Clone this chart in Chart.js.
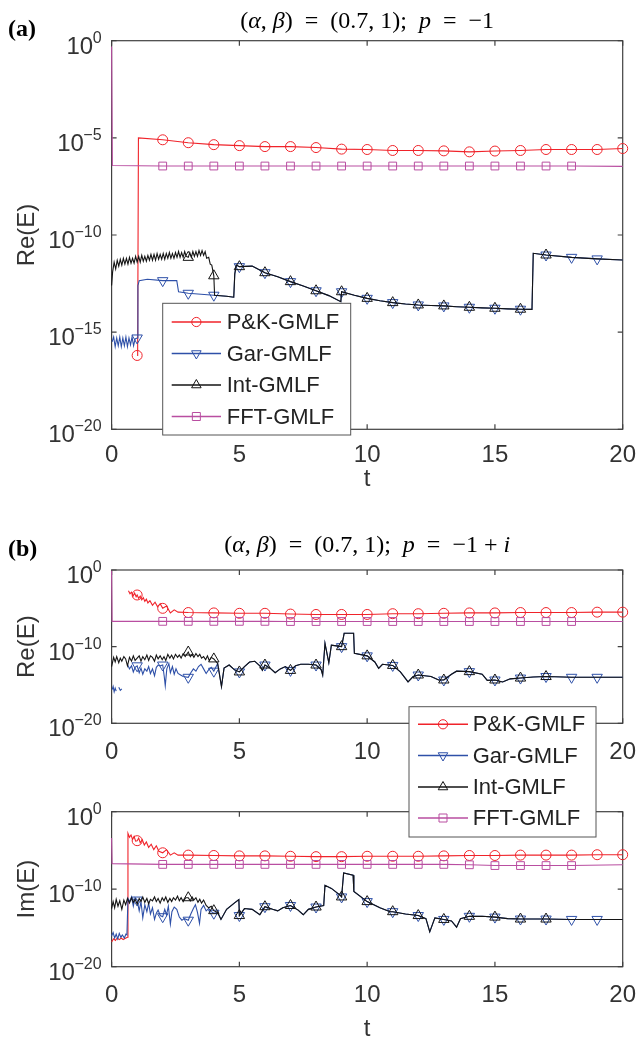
<!DOCTYPE html>
<html>
<head>
<meta charset="utf-8">
<script src="https://cdn.jsdelivr.net/npm/chart.js@4.4.1/dist/chart.umd.min.js"></script>
<style>
  body { margin: 0; background: #fff; width: 636px; height: 1040px; position: relative; overflow: hidden; }
  canvas { position: absolute; left: 0; }
</style>
</head>
<body>
<canvas id="panelA" width="636" height="520" style="top:0px"></canvas>
<canvas id="panelB1" width="636" height="270" style="top:520px"></canvas>
<canvas id="panelB2" width="636" height="340" style="top:700px"></canvas>
<script>
// ---- axes / legend text ----
const tickX = [0, 5, 10, 15, 20];
const tickExpA = [0, -5, -10, -15, -20];
const tickExpB = [0, -10, -20];
const seriesNames = ["P&K-GMLF", "Gar-GMLF", "Int-GMLF", "FFT-GMLF"];

// t values where each method shows a marker
const pkMarks = [1, 2, 3, 4, 5, 6, 7, 8, 9, 10, 11, 12, 13, 14, 15, 16, 17, 18, 19, 20];
const garMarks = [1, 2, 3, 4, 5, 6, 7, 8, 9, 10, 11, 12, 13, 14, 15, 16, 17, 18, 19];
const intMarks = [3, 4, 5, 6, 7, 8, 9, 10, 11, 12, 13, 14, 15, 16, 17];
const fftMarks = [2, 3, 4, 5, 6, 7, 8, 9, 10, 11, 12, 13, 14, 15, 16, 17, 18];

// ---- panel (a): values are log10 of the error ----
const pkA_t = [1, 1.02, 1.05, 2, 3, 4, 5, 6, 7, 8, 9, 10, 11, 12, 13, 14, 15, 16, 17, 18, 19, 20];
const pkA_e = [-16.2, -15.6, -5.0, -5.1, -5.25, -5.35, -5.4, -5.45, -5.45, -5.5, -5.58, -5.6, -5.65, -5.65, -5.67, -5.72, -5.68, -5.65, -5.6, -5.6, -5.6, -5.55];

const garA_t = [0.02, 0.08, 0.14, 0.2, 0.26, 0.32, 0.38, 0.44, 0.5, 0.56, 0.62, 0.68, 0.74, 0.8, 0.86, 0.92, 1, 1.03, 1.08, 1.4, 2, 2.55, 2.62, 3, 3.5, 4, 4.5, 4.78];
const garA_e = [-15.5, -15.25, -15.75, -15.3, -15.7, -15.25, -15.75, -15.3, -15.7, -15.25, -15.75, -15.3, -15.65, -15.25, -15.7, -15.35, -15.3, -12.6, -12.35, -12.28, -12.35, -12.35, -12.92, -13.0, -13.05, -13.1, -13.15, -13.2];

const intA_t = [0, 0.04, 0.1, 0.16, 0.22, 0.28, 0.34, 0.4, 0.46, 0.52, 0.58, 0.64, 0.7, 0.76, 0.82, 0.88, 0.94, 1, 1.06, 1.12, 1.18, 1.24, 1.3, 1.36, 1.42, 1.48, 1.54, 1.6, 1.66, 1.72, 1.78, 1.84, 1.9, 1.96, 2.02, 2.08, 2.14, 2.2, 2.26, 2.32, 2.38, 2.44, 2.5, 2.56, 2.62, 2.68, 2.74, 2.8, 2.86, 2.92, 3, 3.06, 3.12, 3.18, 3.24, 3.3, 3.36, 3.42, 3.48, 3.54, 3.6, 3.66, 3.72, 3.8, 3.86, 3.92, 4, 4.03, 4.5, 4.78];
const intA_e = [-12.6, -11.9, -11.4, -11.75, -11.3, -11.6, -11.25, -11.55, -11.2, -11.5, -11.2, -11.5, -11.15, -11.45, -11.2, -11.45, -11.1, -11.4, -11.1, -11.4, -11.05, -11.35, -11.1, -11.35, -11.05, -11.3, -11.0, -11.3, -11.0, -11.3, -10.95, -11.25, -11.0, -11.25, -10.95, -11.25, -10.95, -11.2, -10.9, -11.2, -10.95, -11.2, -10.9, -11.15, -10.85, -11.15, -10.9, -11.15, -10.85, -11.1, -11.15, -10.9, -11.15, -10.85, -11.1, -10.85, -11.1, -10.8, -11.05, -10.8, -11.05, -10.85, -11.2, -11.15, -11.5, -11.55, -12.1, -13.1, -13.15, -13.2];

// Gar and Int coincide after t ~ 4.8
const tailA_t = [4.82, 4.88, 5, 5.5, 6, 6.5, 7, 7.5, 8, 8.5, 8.97, 9, 9.5, 10, 10.5, 11, 11.5, 12, 12.5, 13, 13.5, 14, 14.5, 15, 15.5, 16, 16.45, 16.5, 17, 18, 19, 20];
const tailA_e = [-12.0, -11.55, -11.63, -11.6, -11.94, -12.15, -12.4, -12.62, -12.87, -13.12, -13.43, -12.92, -13.1, -13.26, -13.38, -13.48, -13.55, -13.6, -13.63, -13.65, -13.69, -13.72, -13.75, -13.77, -13.8, -13.82, -13.83, -10.94, -11.03, -11.15, -11.23, -11.29];

const fftA_t = [0, 0.03, 2, 3, 4, 5, 6, 7, 8, 9, 10, 11, 12, 13, 14, 15, 16, 17, 18, 20];
const fftA_e = [-0.3, -6.42, -6.45, -6.45, -6.45, -6.45, -6.45, -6.45, -6.45, -6.45, -6.45, -6.45, -6.45, -6.45, -6.45, -6.45, -6.45, -6.45, -6.45, -6.47];

// ---- panel (b), real part ----
const pkB1_t = [0.66, 0.72, 0.78, 0.84, 0.9, 0.96, 1, 1.06, 1.12, 1.18, 1.24, 1.3, 1.36, 1.42, 1.5, 1.6, 1.7, 1.8, 1.9, 2, 2.15, 2.3, 2.45, 2.6, 3, 4, 5, 6, 7, 8, 9, 10, 11, 12, 13, 14, 15, 16, 17, 18, 19, 20];
const pkB1_e = [-2.7, -3.1, -2.9, -3.4, -3.0, -3.5, -3.26, -3.7, -3.4, -3.9, -3.6, -4.1, -3.8, -4.3, -4.0, -4.6, -4.2, -4.8, -4.4, -5.0, -4.7, -5.6, -5.2, -5.5, -5.55, -5.6, -5.65, -5.65, -5.75, -5.8, -5.8, -5.8, -5.7, -5.7, -5.65, -5.6, -5.6, -5.55, -5.55, -5.55, -5.5, -5.5];

const garB1_t = [0.02, 0.06, 0.1, 0.14, 0.18, 0.22, 0.28, 0.34, 0.4, 0.45, 0.62, 0.7, 0.78, 0.85, 0.92, 1, 1.08, 1.15, 1.22, 1.3, 1.38, 1.45, 1.52, 1.6, 1.68, 1.75, 1.82, 1.9, 2, 2.06, 2.1, 2.16, 2.24, 2.3, 2.38, 2.45, 2.52, 2.6, 2.7, 2.8, 3, 3.1, 3.2, 3.3, 3.4, 3.5, 3.6, 3.7, 3.8, 3.9, 4];
const garB1_e = [-15.6, -15.2, -15.9, -15.4, -15.8, null, -15.3, -15.7, -15.5, null, -12.3, -12.9, -12.5, -13.3, -12.7, -12.5, -13.4, -12.8, -13.6, -12.9, -13.2, -12.6, -13.5, -12.9, -13.8, -12.7, -12.4, -12.5, -12.4, -13.9, -15.1, -12.9, -12.2, -13.4, -12.6, -13.6, -12.9, -13.5, -13.7, -13.9, -14.0, -13.4, -12.9, -13.2, -12.6, -12.3, -12.9, -13.5, -13.0, -12.7, -13.2];

const intB1_t = [0, 0.08, 0.14, 0.2, 0.28, 0.34, 0.4, 0.48, 0.55, 0.62, 0.7, 0.78, 0.85, 0.92, 1, 1.08, 1.15, 1.22, 1.3, 1.38, 1.45, 1.52, 1.6, 1.68, 1.75, 1.82, 1.9, 1.98, 2.05, 2.12, 2.2, 2.28, 2.35, 2.42, 2.5, 2.58, 2.65, 2.72, 2.8, 2.88, 3, 3.08, 3.15, 3.22, 3.3, 3.38, 3.45, 3.52, 3.6, 3.68, 3.75, 3.82, 3.9, 4];
const intB1_e = [-12.6, -11.4, -12.0, -11.3, -12.1, -11.5, -11.9, -11.3, -11.6, -12.5, -11.4, -11.9, -11.2, -11.8, -11.5, -11.2, -11.9, -11.3, -11.7, -11.1, -11.8, -11.2, -11.4, -11.9, -11.1, -11.6, -11.2, -11.7, -11.3, -11.8, -11.0, -11.5, -11.1, -11.6, -11.0, -11.4, -11.1, -11.5, -10.9, -11.3, -10.7, -11.3, -11.0, -11.4, -10.9, -11.3, -11.0, -11.5, -11.3, -11.7, -11.2, -11.8, -11.4, -11.6];

const tailB1_t = [4.15, 4.3, 4.4, 4.6, 4.8, 5, 5.2, 5.4, 5.6, 5.8, 5.9, 6, 6.2, 6.4, 6.6, 6.8, 7, 7.2, 7.4, 7.7, 8, 8.2, 8.26, 8.35, 8.5, 8.6, 8.8, 9, 9.1, 9.47, 9.5, 10, 10.3, 10.45, 10.6, 11, 11.3, 11.6, 11.8, 12, 12.5, 12.8, 13, 13.3, 13.5, 14, 14.5, 14.7, 15, 15.3, 15.6, 16, 16.5, 17, 18, 19, 20];
const tailB1_e = [-12.2, -15.2, -12.8, -12.4, -13.0, -13.3, -12.6, -12.0, -11.9, -12.5, -13.1, -12.4, -12.8, -13.4, -12.9, -12.6, -13.1, -12.5, -12.3, -12.3, -12.4, -13.0, -13.7, -9.57, -12.1, -9.8, -9.9, -10.0, -8.26, -8.26, -10.87, -11.2, -12.0, -12.83, -12.3, -12.45, -13.3, -14.6, -13.9, -13.7, -13.9, -14.35, -14.35, -13.6, -13.2, -13.26, -13.6, -14.4, -14.35, -14.6, -14.2, -14.1, -13.95, -13.9, -14.0, -14.0, -14.0];

const fftB1_t = [0, 0.02, 2, 3, 4, 5, 6, 7, 8, 9, 10, 11, 12, 13, 14, 15, 16, 17, 18, 20];
const fftB1_e = [-0.1, -6.7, -6.7, -6.7, -6.7, -6.7, -6.7, -6.72, -6.72, -6.72, -6.72, -6.72, -6.72, -6.72, -6.72, -6.72, -6.72, -6.72, -6.72, -6.72];

// ---- panel (b), imaginary part ----
const pkB2_t = [0, 0.08, 0.15, 0.22, 0.3, 0.38, 0.45, 0.56, 0.62, 0.64, 0.7, 0.76, 0.82, 0.88, 0.94, 1, 1.06, 1.12, 1.2, 1.28, 1.36, 1.45, 1.55, 1.65, 1.75, 1.85, 2, 2.15, 2.3, 2.45, 2.6, 3, 4, 5, 6, 7, 8, 9, 10, 11, 12, 13, 14, 15, 16, 17, 18, 19, 20];
const pkB2_e = [-16.8, -16.4, -16.6, -16.3, -16.5, -16.3, -16.5, -16.3, -16.2, -2.8, -3.3, -3.0, -3.6, -3.2, -3.8, -3.74, -3.4, -4.0, -3.6, -4.3, -3.9, -4.6, -4.2, -4.9, -4.4, -5.1, -5.3, -4.9, -5.6, -5.3, -5.6, -5.6, -5.65, -5.7, -5.7, -5.75, -5.8, -5.8, -5.75, -5.75, -5.75, -5.7, -5.65, -5.65, -5.6, -5.6, -5.6, -5.55, -5.55];

const garB2_t = [0, 0.06, 0.12, 0.18, 0.24, 0.3, 0.36, 0.42, 0.5, 0.56, 0.6, 0.64, 0.7, 0.78, 0.85, 0.92, 1, 1.08, 1.15, 1.22, 1.3, 1.38, 1.45, 1.52, 1.6, 1.68, 1.75, 1.82, 1.9, 2, 2.08, 2.15, 2.22, 2.3, 2.36, 2.45, 2.55, 2.65, 2.75, 2.85, 3, 3.1, 3.2, 3.28, 3.36, 3.44, 3.5, 3.6, 3.7, 3.8, 3.9, 4];
const garB2_e = [-16.0, -15.6, -16.3, -15.8, -16.4, -15.7, -16.2, -15.9, -16.3, -15.8, -15.9, -11.2, -11.6, -11.0, -12.2, -11.1, -11.4, -12.8, -11.6, -13.7, -12.0, -12.9, -11.8, -13.2, -12.4, -13.9, -13.1, -12.7, -13.4, -13.55, -12.6, -13.3, -12.2, -14.5, -12.9, -12.3, -12.6, -13.6, -14.0, -13.8, -14.0, -13.2, -12.5, -12.0, -13.0, -14.4, -12.6, -12.1, -12.8, -12.5, -12.9, -13.1];

const intB2_t = [0, 0.06, 0.12, 0.18, 0.25, 0.32, 0.4, 0.48, 0.55, 0.62, 0.7, 0.78, 0.85, 0.92, 1, 1.08, 1.15, 1.22, 1.3, 1.38, 1.45, 1.52, 1.6, 1.68, 1.75, 1.82, 1.9, 1.98, 2.05, 2.12, 2.2, 2.28, 2.35, 2.42, 2.5, 2.58, 2.65, 2.72, 2.8, 2.9, 3, 3.08, 3.15, 3.22, 3.3, 3.38, 3.45, 3.52, 3.6, 3.7, 3.8, 3.9, 4];
const intB2_e = [-12.5, -11.6, -12.4, -11.3, -12.2, -11.5, -12.6, -11.4, -12.0, -11.2, -11.8, -11.1, -11.7, -11.3, -11.9, -11.2, -11.6, -11.0, -11.7, -11.2, -11.9, -11.3, -11.5, -11.0, -11.6, -11.2, -11.8, -11.1, -11.5, -11.0, -11.7, -11.2, -11.6, -11.1, -11.4, -10.9, -11.5, -11.1, -11.6, -11.1, -11.1, -11.5, -11.0, -11.4, -11.1, -11.7, -11.3, -11.8, -11.4, -12.1, -12.4, -12.2, -12.77];

const tailB2_t = [4.15, 4.28, 4.5, 4.8, 4.98, 5, 5.2, 5.5, 5.8, 6, 6.3, 6.5, 6.7, 7, 7.3, 7.5, 7.7, 8, 8.3, 8.35, 8.6, 8.95, 9, 9.08, 9.45, 9.48, 10, 10.5, 10.9, 11, 11.5, 12, 12.3, 12.45, 12.65, 13, 13.3, 13.5, 13.65, 14, 14.5, 15, 15.5, 16, 17, 18, 19, 20];
const tailB2_e = [-13.0, -13.9, -12.6, -11.8, -11.35, -13.4, -12.5, -12.6, -13.3, -12.26, -12.6, -12.8, -12.4, -12.1, -12.7, -13.3, -12.6, -12.3, -12.1, -9.5, -9.9, -10.8, -11.0, -7.9, -8.2, -10.3, -11.6, -12.4, -12.9, -12.9, -13.2, -13.4, -13.8, -15.5, -13.7, -13.9, -14.1, -14.9, -13.8, -13.5, -13.5, -13.6, -13.8, -13.85, -13.85, -13.9, -13.9, -13.9];

const fftB2_t = [0, 0.02, 2, 3, 4, 5, 6, 7, 8, 9, 10, 11, 12, 13, 14, 15, 16, 17, 18, 20];
const fftB2_e = [-3.4, -6.7, -6.8, -6.8, -6.8, -6.8, -6.8, -6.8, -6.8, -6.8, -6.8, -6.8, -6.8, -6.8, -6.85, -6.95, -6.95, -6.95, -6.95, -6.85];

// ---- styling ----
const colors = { pk: "#f0232a", gar: "#2e50a8", int: "#141414", fft: "#b94ea1" };
const axisColor = "#404040";
const textColor = "#333333";
const sansFont = "'Liberation Sans', Arial, Helvetica, sans-serif";
const serifFont = "'Liberation Serif', 'Times New Roman', serif";

const titleA = [["(", 0], ["α", 1], [", ", 0], ["β", 1], [")  =  (0.7, 1);  ", 0], ["p", 1], ["  =  −1", 0]];
const titleB = [["(", 0], ["α", 1], [", ", 0], ["β", 1], [")  =  (0.7, 1);  ", 0], ["p", 1], ["  =  −1 + ", 0], ["i", 1]];

function pts(ts, es) {
    return ts.map((t, i) => ({ x: t, y: es[i] === null ? null : Math.pow(10, es[i]) }));
}

function series(ts, es, color, style, marks, r, rot, order) {
    return {
        data: pts(ts, es),
        borderColor: color,
        borderWidth: 1.1,
        pointStyle: style,
        pointRotation: rot,
        pointRadius: ctx => (ctx.raw && marks.includes(ctx.raw.x)) ? r : 0,
        pointBorderColor: color,
        pointBackgroundColor: "rgba(0,0,0,0)",
        pointBorderWidth: 1,
        tension: 0,
        spanGaps: false,
        clip: false,
        order: order
    };
}

function drawMarker(ctx, style, x, y, r, color) {
    ctx.beginPath();
    if (style === "circle") {
        ctx.arc(x, y, r, 0, 2 * Math.PI);
    } else if (style === "up") {
        ctx.moveTo(x, y - r);
        ctx.lineTo(x + 0.866 * r, y + 0.5 * r);
        ctx.lineTo(x - 0.866 * r, y + 0.5 * r);
        ctx.closePath();
    } else if (style === "down") {
        ctx.moveTo(x, y + r);
        ctx.lineTo(x + 0.866 * r, y - 0.5 * r);
        ctx.lineTo(x - 0.866 * r, y - 0.5 * r);
        ctx.closePath();
    } else {
        ctx.rect(x - r, y - r, 2 * r, 2 * r);
    }
    ctx.strokeStyle = color;
    ctx.lineWidth = 1;
    ctx.stroke();
}

function drawRich(ctx, pieces, cx, baseline, size) {
    const fonts = pieces.map(p => (p[1] ? "italic " : "") + size + "px " + serifFont);
    let total = 0;
    const widths = pieces.map((p, i) => { ctx.font = fonts[i]; const w = ctx.measureText(p[0]).width; total += w; return w; });
    let x = cx - total / 2;
    ctx.textAlign = "left";
    ctx.textBaseline = "alphabetic";
    pieces.forEach((p, i) => { ctx.font = fonts[i]; ctx.fillText(p[0], x, baseline); x += widths[i]; });
}

const matlabAxes = {
    id: "matlabAxes",
    beforeDatasetsDraw(chart, args, o) {
        const { ctx, chartArea: a, scales } = chart;
        ctx.save();
        ctx.strokeStyle = axisColor;
        ctx.lineWidth = 1.2;
        ctx.strokeRect(a.left, a.top, a.right - a.left, a.bottom - a.top);
        ctx.beginPath();
        tickX.forEach(v => {
            const px = scales.x.getPixelForValue(v);
            ctx.moveTo(px, a.bottom); ctx.lineTo(px, a.bottom - 5);
            ctx.moveTo(px, a.top); ctx.lineTo(px, a.top + 5);
        });
        o.yTicks.forEach(e => {
            const py = scales.y.getPixelForValue(Math.pow(10, e));
            ctx.moveTo(a.left, py); ctx.lineTo(a.left + 5, py);
            ctx.moveTo(a.right, py); ctx.lineTo(a.right - 5, py);
        });
        ctx.stroke();
        ctx.restore();
    },
    afterDraw(chart, args, o) {
        const { ctx, chartArea: a, scales } = chart;
        ctx.save();
        ctx.fillStyle = textColor;

        // y tick labels 10^e
        const right = a.left - 10;
        o.yTicks.forEach(e => {
            const py = scales.y.getPixelForValue(Math.pow(10, e));
            const ex = e === 0 ? "0" : "−" + (-e);
            ctx.font = "16px " + sansFont;
            const we = ctx.measureText(ex).width;
            ctx.textAlign = "left";
            ctx.textBaseline = "alphabetic";
            ctx.fillText(ex, right - we, py + 2);
            ctx.font = "24px " + sansFont;
            ctx.textAlign = "right";
            ctx.fillText("10", right - we + 0.5, py + 13);
        });

        // x tick labels
        ctx.font = "24px " + sansFont;
        ctx.textAlign = "center";
        ctx.textBaseline = "alphabetic";
        tickX.forEach(v => ctx.fillText(String(v), scales.x.getPixelForValue(v), a.bottom + o.tickOff));
        if (o.tY) ctx.fillText("t", (a.left + a.right) / 2, o.tY);

        // y axis title
        ctx.save();
        ctx.translate(27, (a.top + a.bottom) / 2);
        ctx.rotate(-Math.PI / 2);
        ctx.textBaseline = "middle";
        ctx.fillText(o.ylabel, 0, 0);
        ctx.restore();

        // panel title and label
        if (o.title) {
            ctx.fillStyle = "#000";
            drawRich(ctx, o.title, (a.left + a.right) / 2, o.titleY, 24);
            ctx.font = "bold 24px " + serifFont;
            ctx.textAlign = "left";
            ctx.fillText(o.panel, 8, o.panelY);
        }

        // legend
        if (o.legend) {
            const L = o.legend;
            ctx.fillStyle = "#fff";
            ctx.fillRect(L.x0, L.y0, L.x1 - L.x0, L.y1 - L.y0);
            ctx.strokeStyle = "#555";
            ctx.lineWidth = 1;
            ctx.strokeRect(L.x0, L.y0, L.x1 - L.x0, L.y1 - L.y0);
            const cols = [colors.pk, colors.gar, colors.int, colors.fft];
            const styles = ["circle", "down", "up", "rect"];
            const sizes = [4.6, 5.5, 5.5, 4];
            seriesNames.forEach((name, i) => {
                const ry = L.rows[i];
                ctx.beginPath();
                ctx.moveTo(L.lx0, ry); ctx.lineTo(L.lx1, ry);
                ctx.strokeStyle = cols[i];
                ctx.lineWidth = 1.6;
                ctx.stroke();
                drawMarker(ctx, styles[i], (L.lx0 + L.lx1) / 2, ry, sizes[i], cols[i]);
                ctx.fillStyle = "#222";
                ctx.font = "22px " + sansFont;
                ctx.textAlign = "left";
                ctx.textBaseline = "middle";
                ctx.fillText(name, L.tx, ry + 1);
            });
        }
        ctx.restore();
    }
};

function makePanel(id, datasets, pad, opts) {
    return new Chart(document.getElementById(id), {
        type: "line",
        data: { datasets: datasets },
        plugins: [matlabAxes],
        options: {
            responsive: false,
            animation: false,
            events: [],
            layout: { padding: pad },
            scales: {
                x: { type: "linear", min: 0, max: 20, display: false },
                y: { type: "logarithmic", min: 1e-20, max: 1, display: false }
            },
            plugins: {
                legend: { display: false },
                tooltip: { enabled: false },
                matlabAxes: opts
            }
        }
    });
}

function fourSeries(pkT, pkE, garT, garE, intT, intE, fftT, fftE) {
    return [
        series(pkT, pkE, colors.pk, "circle", pkMarks, 5, 0, 4),
        series(garT, garE, colors.gar, "triangle", garMarks, 6, 180, 3),
        series(intT, intE, colors.int, "triangle", intMarks, 6, 0, 2),
        series(fftT, fftE, colors.fft, "rect", fftMarks, 5.5, 0, 1)
    ];
}

makePanel("panelA",
    fourSeries(pkA_t, pkA_e, garA_t.concat(tailA_t), garA_e.concat(tailA_e),
               intA_t.concat(tailA_t), intA_e.concat(tailA_e), fftA_t, fftA_e),
    { left: 111.6, right: 13.3, top: 40.7, bottom: 90.7 },
    { ylabel: "Re(E)", yTicks: tickExpA, tickOff: 33, tY: 486, title: titleA, titleY: 28, panel: "(a)", panelY: 36,
      legend: { x0: 162.7, y0: 303.3, x1: 350.7, y1: 435, rows: [322, 353.5, 385, 416.5], lx0: 171.7, lx1: 221, tx: 226.7 } });

makePanel("panelB1",
    fourSeries(pkB1_t, pkB1_e, garB1_t.concat(tailB1_t), garB1_e.concat(tailB1_e),
               intB1_t.concat(tailB1_t), intB1_e.concat(tailB1_e), fftB1_t, fftB1_e),
    { left: 111.6, right: 13.3, top: 50, bottom: 66.7 },
    { ylabel: "Re(E)", yTicks: tickExpB, tickOff: 36, title: titleB, titleY: 32, panel: "(b)", panelY: 36 });

makePanel("panelB2",
    fourSeries(pkB2_t, pkB2_e, garB2_t.concat(tailB2_t), garB2_e.concat(tailB2_e),
               intB2_t.concat(tailB2_t), intB2_e.concat(tailB2_e), fftB2_t, fftB2_e),
    { left: 111.6, right: 13.3, top: 111.7, bottom: 73.3 },
    { ylabel: "Im(E)", yTicks: tickExpB, tickOff: 35, tY: 336,
      legend: { x0: 409, y0: 6.7, x1: 596, y1: 137, rows: [24.3, 55.5, 87, 118], lx0: 418, lx1: 468, tx: 472.7 } });
</script>
</body>
</html>
